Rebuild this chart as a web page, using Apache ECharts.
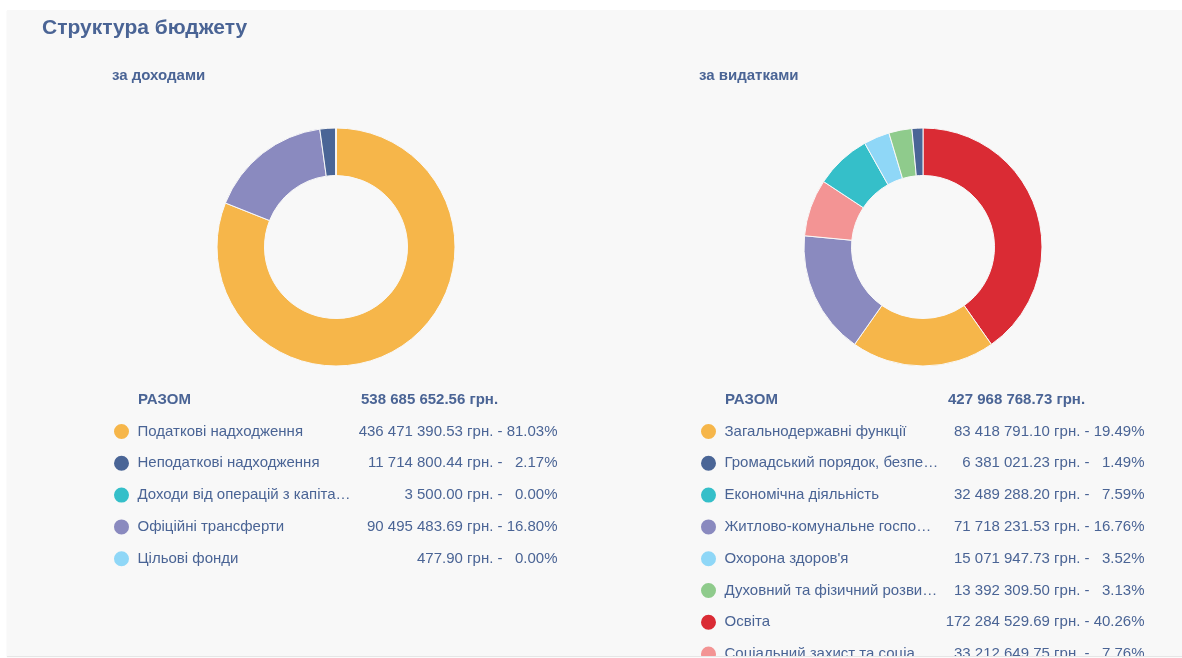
<!DOCTYPE html>
<html>
<head>
<meta charset="utf-8">
<title>Структура бюджету</title>
<script src="https://cdn.jsdelivr.net/npm/echarts@6/dist/echarts.min.js"></script>
<style>
	html, body { margin: 0; padding: 0; background: #fff; }
	#budget { position: absolute; left: 7px; top: 10px; width: 1175px; height: 646px; background: #f8f8f8; box-shadow: 0 1px 1px #e6e6e6; }
</style>
</head>
<body>
<div id="budget"></div>
<script>
var incomeNames = ['Податкові надходження', 'Неподаткові надходження', 'Доходи від операцій з капіталом', 'Офіційні трансферти', 'Цільові фонди'];
var incomeValues = [436471390.53, 11714800.44, 3500.00, 90495483.69, 477.90];

var expenseNames = ['Загальнодержавні функції', 'Громадський порядок, безпека та судова діяльність', 'Економічна діяльність', 'Житлово-комунальне господарство', "Охорона здоров'я", 'Духовний та фізичний розвиток', 'Освіта', 'Соціальний захист та соціальне забезпечення'];
var expenseValues = [83418791.10, 6381021.23, 32489288.20, 71718231.53, 15071947.73, 13392309.50, 172284529.69, 33212649.75];

var palette = ['#f6b64a', '#4a6596', '#35bfc9', '#8a8abf', '#8fd7f7', '#8fcb8c', '#da2b34', '#f39494'];

var txt = '#4a6495';
var font = '"Liberation Sans", Arial, sans-serif';

var measure = document.createElement('canvas').getContext('2d');
function clip(s, w) {
	measure.font = '15px ' + font;
	if (measure.measureText(s).width <= w) return s;
	while (s.length && measure.measureText(s + '…').width > w) s = s.slice(0, -1);
	return s + '…';
}
function money(v) {
	var p = v.toFixed(2).split('.');
	return p[0].replace(/\B(?=(\d{3})+(?!\d))/g, ' ') + '.' + p[1];
}
function sum(arr) {
	return arr.reduce(function(a, b) { return a + b; }, 0);
}
function pieData(names, values) {
	var d = names.map(function(n, i) {
		return { name: n, value: values[i], itemStyle: { color: palette[i] } };
	});
	// slices go clockwise from the biggest one
	return d.slice().sort(function(a, b) { return b.value - a.value; });
}
function legendText(names, values) {
	var total = sum(values);
	return function(name) {
		var i = names.indexOf(name);
		var pct = (values[i] / total * 100).toFixed(2);
		return '{n|' + clip(name, 214) + '}{v|' + money(values[i]) + ' грн. -}{p|' + pct + '%}';
	};
}
var rowRich = {
	n: { width: 215, fontSize: 15, lineHeight: 17, color: txt, fontFamily: font },
	v: { width: 150, align: 'right', fontSize: 15, lineHeight: 17, color: txt, fontFamily: font },
	p: { width: 55, align: 'right', fontSize: 15, lineHeight: 17, color: txt, fontFamily: font }
};
var totalRich = {
	a: { width: 223, fontSize: 15, fontWeight: 'bold', lineHeight: 17, color: txt, fontFamily: font },
	b: { fontSize: 15, fontWeight: 'bold', lineHeight: 17, color: txt, fontFamily: font }
};

function legendBox(names, values, left) {
	return {
		data: names,
		orient: 'vertical',
		left: left,
		top: 412,
		height: 400,
		padding: 0,
		icon: 'circle',
		itemWidth: 22,
		itemHeight: 17,
		itemGap: 12.8,
		selectedMode: false,
		formatter: legendText(names, values),
		textStyle: { rich: rowRich }
	};
}
function totalTitle(values, left) {
	return {
		text: '{a|РАЗОМ}{b|' + money(sum(values)) + ' грн.}',
		left: left,
		top: 381,
		padding: 0,
		textStyle: { rich: totalRich }
	};
}
function donut(name, names, values, cx) {
	return {
		name: name,
		type: 'pie',
		center: [cx, 237],
		radius: [71.5, 119],
		startAngle: 90,
		clockwise: true,
		label: { show: false },
		labelLine: { show: false },
		silent: true,
		itemStyle: { borderColor: '#f8f8f8', borderWidth: 1 },
		data: pieData(names, values)
	};
}

var budget = echarts.init(document.getElementById('budget'));
var opt = {
	animation: false,
	title: [{
		text: 'Структура бюджету',
		left: 35,
		top: 8,
		padding: 0,
		textStyle: { fontSize: 21, fontWeight: 'bold', color: txt, fontFamily: font }
	}, {
		text: 'за доходами',
		left: 105,
		top: 58,
		padding: 0,
		textStyle: { fontSize: 15, fontWeight: 'bold', color: txt, fontFamily: font }
	}, {
		text: 'за видатками',
		left: 692,
		top: 58,
		padding: 0,
		textStyle: { fontSize: 15, fontWeight: 'bold', color: txt, fontFamily: font }
	},
		totalTitle(incomeValues, 131),
		totalTitle(expenseValues, 718)
	],
	legend: [
		legendBox(incomeNames, incomeValues, 105),
		legendBox(expenseNames, expenseValues, 692)
	],
	series: [
		donut('за доходами', incomeNames, incomeValues, 329),
		donut('за видатками', expenseNames, expenseValues, 916)
	]
};
budget.setOption(opt);
</script>
</body>
</html>
